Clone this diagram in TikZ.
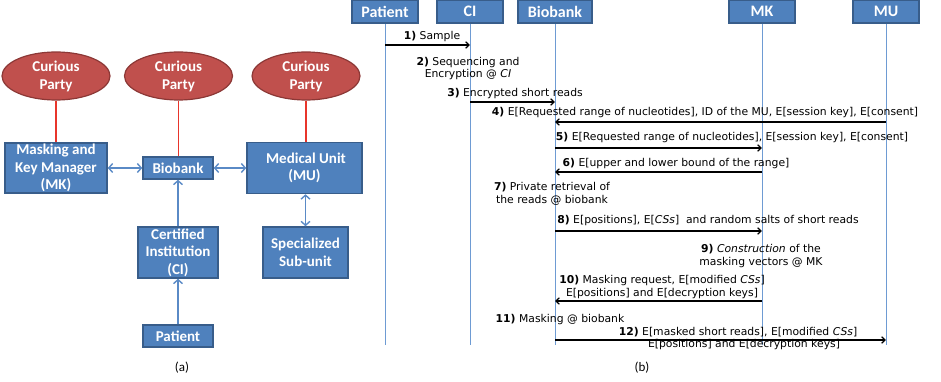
\documentclass[tikz,border=0pt]{standalone}
\usepackage{fontspec}
\setmainfont{Carlito}
\newfontfamily\seqfont{DejaVu Sans}
\usetikzlibrary{shapes.geometric,arrows.meta}
\definecolor{boxfill}{HTML}{4F81BD}
\definecolor{boxedge}{HTML}{385D8A}
\definecolor{cpfill}{HTML}{C0504D}
\definecolor{cpedge}{HTML}{8C3836}
\definecolor{redln}{HTML}{E8352B}
\definecolor{arrblue}{HTML}{5A8AC6}
\definecolor{lifeblue}{HTML}{6E9BD3}
\begin{document}
\begin{tikzpicture}[x=1pt,y=-1pt,
  bx/.style={draw=boxedge,fill=boxfill,line width=1.5pt,text=white,
    font=\fontsize{15}{17.5}\selectfont\bfseries,align=center,inner sep=0pt},
  hbx/.style={bx,font=\fontsize{16}{18}\selectfont\bfseries,minimum width=66pt,minimum height=23pt},
  cparty/.style={ellipse,draw=cpedge,fill=cpfill,line width=1.2pt,text=white,
    font=\fontsize{15}{18}\selectfont\bfseries,align=center,inner sep=0pt,
    minimum width=108pt,minimum height=48pt},
  redlink/.style={draw=redln,line width=1.3pt},
  barr/.style={draw=arrblue,line width=1.4pt,{Straight Barb[length=4pt,width=9pt]}-{Straight Barb[length=4pt,width=9pt]}},
  uarr/.style={draw=arrblue,line width=1.4pt,-{Straight Barb[length=4pt,width=9pt]}},
  life/.style={draw=lifeblue,line width=0.9pt},
  msg/.style={draw=black,line width=1.2pt,-{Straight Barb[length=3.5pt,width=6.5pt]}},
  lbl/.style={font=\seqfont\fontsize{10.8}{12.8}\selectfont,inner sep=0pt,align=center},
  captxt/.style={font=\fontsize{13}{15}\selectfont,inner sep=0pt}
]
\useasboundingbox (0,0) rectangle (941,382);

% ---------- (a) ----------
\node[cparty] (cp1) at (56,76) {Curious\\Party};
\node[cparty] (cp2) at (178.5,76) {Curious\\Party};
\node[cparty] (cp3) at (306,76) {Curious\\Party};

\node[bx,minimum width=102pt,minimum height=50pt] (mk) at (56,168) {Masking and\\Key Manager\\(MK)};
\node[bx,minimum width=70pt,minimum height=22pt] (bb) at (178,168) {Biobank};
\node[bx,minimum width=115pt,minimum height=51pt] (mu) at (304.5,168) {\hspace*{3pt}Medical Unit\\(MU)};
\node[bx,minimum width=80pt,minimum height=51pt] (ci) at (178,252.5) {Certified\\Institution\\(CI)};
\node[bx,minimum width=85pt,minimum height=51pt] (ssu) at (305.5,252.5) {Specialized\\Sub-unit};
\node[bx,minimum width=70pt,minimum height=22pt] (pat) at (178,336) {Patient};

\draw[redlink] (cp1.south) -- (cp1.south |- mk.north);
\draw[redlink] (cp2.south) -- (cp2.south |- bb.north);
\draw[redlink] (cp3.south) -- (cp3.south |- mu.north);

\draw[barr] (mk) -- (bb);
\draw[barr] (bb) -- (mu);
\draw[uarr] (ci) -- (bb);
\draw[uarr] (pat) -- (ci);
\draw[barr] (mu.south -| ssu.north) -- (ssu.north);

\node[captxt] (capa) at (182,368) {(a)};

% ---------- (b) ----------
\node[hbx] (hp) at (385,11.5) {Patient};
\node[hbx] (hc) at (470,11.5) {CI};
\node[hbx,minimum width=74pt] (hb) at (555,11.5) {Biobank};
\node[hbx] (hk) at (762,11.5) {MK};
\node[hbx] (hu) at (886,11.5) {MU};

\coordinate (ep) at (385,345);
\coordinate (ec) at (470,345);
\coordinate (eb) at (555,345);
\coordinate (ek) at (762,345);
\coordinate (eu) at (886,345);
\draw[life] (hp.south) -- (ep);
\draw[life] (hc.south) -- (ec);
\draw[life] (hb.south) -- (eb);
\draw[life] (hk.south) -- (ek);
\draw[life] (hu.south) -- (eu);

% messages
\draw[msg] (hp |- 0,45) -- (hc |- 0,45);
\node[lbl] (l1) at (432,37) {\textbf{1)} Sample};

\node[lbl] (l2) at (468,68.5) {\textbf{2)} Sequencing and\\Encryption @ \textit{CI}};

\draw[msg] (hc |- 0,102) -- (hb |- 0,102);
\node[lbl] (l3) at (515,94) {\textbf{3)} Encrypted short reads};

\draw[msg] (hu |- 0,122) -- (hb |- 0,122);
\node[lbl] (l4) at (705,113) {\textbf{4)} E[Requested range of nucleotides], ID of the MU, E[session key], E[consent]};

\draw[msg] (hb |- 0,148) -- (hk |- 0,148);
\node[lbl] (l5) at (732,138) {\textbf{5)} E[Requested range of nucleotides], E[session key], E[consent]};

\draw[msg] (hk |- 0,172) -- (hb |- 0,172);
\node[lbl] (l6) at (676,164) {\textbf{6)} E[upper and lower bound of the range]};

\node[lbl] (l7) at (552,194) {\textbf{7)} Private retrieval of\\the reads @ biobank};

\draw[msg] (hb |- 0,231) -- (hk |- 0,231);
\node[lbl] (l8) at (708,221) {\textbf{8)} E[positions], E[\textit{CSs}]\ \ and random salts of short reads};

\node[lbl] (l9) at (761,256) {\textbf{9)} \textit{Construction} of the\\masking vectors @ MK};

\draw[msg] (hk |- 0,301) -- (hb |- 0,301);
\node[lbl] (l10) at (662,287) {\textbf{10)} Masking request, E[modified \textit{CSs}]\\E[positions] and E[decryption keys]};

\node[lbl] (l11) at (560,320) {\textbf{11)} Masking @ biobank};

\draw[msg] (hb |- 0,340) -- (hu |- 0,340);
\node[lbl] (l12) at (738,338.5) {\textbf{12)} E[masked short reads], E[modified \textit{CSs}]\\\hspace*{12pt}E[positions] and E[decryption keys]};

\node[captxt] (capb) at (642,368) {(b)};
\end{tikzpicture}
\end{document}
